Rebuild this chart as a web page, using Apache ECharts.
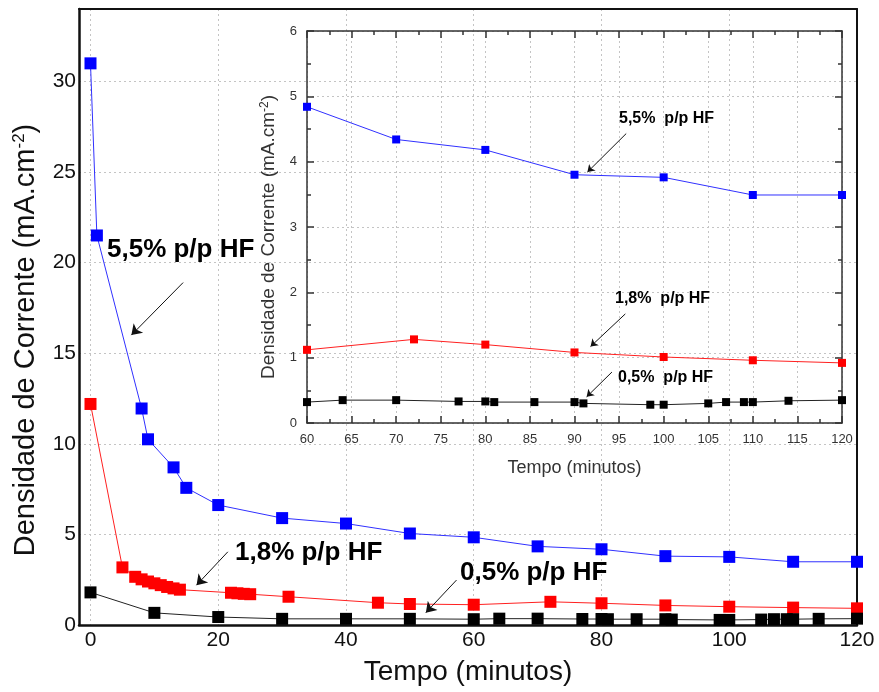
<!DOCTYPE html>
<html>
<head>
<meta charset="utf-8">
<script src="https://cdn.jsdelivr.net/npm/echarts@6/dist/echarts.min.js"></script>
<style>
  html, body { margin: 0; padding: 0; background: #fff; }
  #chart { width: 879px; height: 692px; }
</style>
</head>
<body>
<div id="chart"></div>
<script>
// densidade de corrente (mA.cm-2) x tempo (minutos), uma serie por concentracao de HF
const tempo55 = [0, 1, 8, 9, 13, 15, 20, 30, 40, 50, 60, 70, 80, 90, 100, 110, 120];
const dens55 = [31.0, 21.5, 11.95, 10.25, 8.7, 7.57, 6.62, 5.9, 5.6, 5.05, 4.84, 4.34, 4.18, 3.8, 3.76, 3.49, 3.49];

const tempo18 = [0, 5, 7, 8, 9, 10, 11, 12, 13, 14, 22, 23, 24, 25, 31, 45, 50, 60, 72, 80, 90, 100, 110, 120];
const dens18 = [12.2, 3.18, 2.66, 2.52, 2.4, 2.3, 2.2, 2.1, 2.02, 1.95, 1.78, 1.75, 1.72, 1.7, 1.56, 1.23, 1.16, 1.12, 1.28, 1.2, 1.08, 1.01, 0.96, 0.92];

const tempo05 = [0, 10, 20, 30, 40, 50, 60, 64, 70, 77, 80, 81, 85.5, 90, 91, 98.5, 100, 105, 107, 109, 110, 114, 120];
const dens05 = [1.8, 0.67, 0.44, 0.34, 0.34, 0.34, 0.32, 0.35, 0.35, 0.33, 0.33, 0.32, 0.32, 0.32, 0.30, 0.28, 0.28, 0.30, 0.32, 0.32, 0.32, 0.34, 0.35];

// setas das anotacoes, em coordenadas dos eixos [inicio, ponta]
const setasPrincipal = [
  [[14.5, 18.9], [6.4, 16.0]],
  [[21.5, 4.04], [16.6, 2.2]],
  [[57.3, 2.48], [52.5, 0.68]]
];
const setasDetalhe = [
  [[95.8, 4.43], [91.45, 3.84]],
  [[95.7, 1.67], [91.8, 1.17]],
  [[94.2, 0.78], [91.36, 0.40]]
];

const fonte = "'Liberation Sans', Arial, sans-serif";
const grade = { color: '#c4c4c4', type: [2, 3], width: 1 };

const pares = (xs, ys) => xs.map((x, i) => [x, ys[i]]);
const detalhe = (xs, ys) => pares(xs, ys).filter(p => p[0] >= 60);

const serie = (dados, cor, corLinha, tam, eixo) => ({
  type: 'line',
  data: dados,
  xAxisIndex: eixo,
  yAxisIndex: eixo,
  symbol: 'rect',
  symbolSize: tam,
  showAllSymbol: true,
  itemStyle: { color: cor },
  lineStyle: { color: corLinha, width: 1 },
  z: 3
});

const setas = (lista, eixo, tam) => ({
  type: 'lines',
  coordinateSystem: 'cartesian2d',
  xAxisIndex: eixo,
  yAxisIndex: eixo,
  symbol: ['none', 'arrow'],
  symbolSize: tam,
  lineStyle: { color: '#111', width: 1, opacity: 1 },
  data: lista.map(s => ({ coords: s })),
  z: 4
});

const texto = (t, x, y, tam) => ({
  type: 'text', x: x, y: y, z: 10,
  style: { text: t, font: 'bold ' + tam + 'px ' + fonte, fill: '#000', verticalAlign: 'middle' }
});

const option = {
  animation: false,
  grid: [
    { left: 79, top: 9, right: 22, bottom: 67 },
    { left: 307, top: 31, right: 37, bottom: 269 }
  ],
  xAxis: [
    {
      gridIndex: 0, type: 'value', position: 'bottom', min: -1.8, max: 120, splitNumber: 6,
      name: 'Tempo (minutos)', nameLocation: 'middle', nameGap: 33,
      nameTextStyle: { fontSize: 28, fontFamily: fonte, color: '#111' },
      axisLine: { onZero: false, lineStyle: { color: '#111', width: 2.5 } },
      axisTick: { show: false },
      axisLabel: { fontSize: 21, fontFamily: fonte, color: '#111', margin: 5, showMinLabel: false },
      splitLine: { show: true, lineStyle: grade }
    },
    {
      gridIndex: 0, type: 'value', position: 'top', min: -1.8, max: 120,
      axisLine: { onZero: false, lineStyle: { color: '#111', width: 2 } },
      axisTick: { show: false }, axisLabel: { show: false }, splitLine: { show: false }
    },
    {
      gridIndex: 1, type: 'value', position: 'bottom', min: 60, max: 120, interval: 5,
      name: 'Tempo (minutos)', nameLocation: 'middle', nameGap: 36,
      nameTextStyle: { fontSize: 18, fontFamily: fonte, color: '#333' },
      axisLine: { onZero: false, lineStyle: { color: '#333', width: 1.5 } },
      axisTick: { inside: true, length: 7, lineStyle: { color: '#333', width: 1.5 } },
      minorTick: { show: true, splitNumber: 2, length: 4, lineStyle: { color: '#333', width: 1.5 } },
      axisLabel: { fontSize: 13, fontFamily: fonte, color: '#333', margin: 10 },
      splitLine: { show: true, lineStyle: grade }
    },
    {
      gridIndex: 1, type: 'value', position: 'top', min: 60, max: 120, interval: 5,
      axisLine: { onZero: false, lineStyle: { color: '#333', width: 1.5 } },
      axisTick: { inside: true, length: 7, lineStyle: { color: '#333', width: 1.5 } },
      minorTick: { show: true, splitNumber: 2, length: 4, lineStyle: { color: '#333', width: 1.5 } },
      axisLabel: { show: false }, splitLine: { show: false }
    }
  ],
  yAxis: [
    {
      gridIndex: 0, type: 'value', position: 'left', min: 0, max: 34, interval: 5,
      name: 'Densidade de Corrente (mA.cm{sup|-2})', nameLocation: 'middle', nameGap: 39,
      nameTextStyle: {
        fontSize: 29, fontFamily: fonte, color: '#111', padding: [0, 46, 0, 0],
        rich: { sup: { fontSize: 17, fontFamily: fonte, color: '#111', verticalAlign: 'top' } }
      },
      axisLine: { show: true, onZero: false, lineStyle: { color: '#111', width: 2.5 } },
      axisTick: { show: false },
      axisLabel: { fontSize: 21, fontFamily: fonte, color: '#111', margin: 3, showMaxLabel: false },
      splitLine: { show: true, lineStyle: grade }
    },
    {
      gridIndex: 0, type: 'value', position: 'right', min: 0, max: 34,
      axisLine: { show: true, onZero: false, lineStyle: { color: '#111', width: 2 } },
      axisTick: { show: false }, axisLabel: { show: false }, splitLine: { show: false }
    },
    {
      gridIndex: 1, type: 'value', position: 'left', min: 0, max: 6, interval: 1,
      name: 'Densidade de Corrente (mA.cm{sup|-2})', nameLocation: 'middle', nameGap: 29,
      nameTextStyle: {
        fontSize: 19, fontFamily: fonte, color: '#333', padding: [0, 20, 0, 0],
        rich: { sup: { fontSize: 12, fontFamily: fonte, color: '#333', verticalAlign: 'top' } }
      },
      axisLine: { show: true, onZero: false, lineStyle: { color: '#333', width: 1.5 } },
      axisTick: { inside: true, length: 7, lineStyle: { color: '#333', width: 1.5 } },
      minorTick: { show: true, splitNumber: 2, length: 4, lineStyle: { color: '#333', width: 1.5 } },
      axisLabel: { fontSize: 13, fontFamily: fonte, color: '#333', margin: 10 },
      splitLine: { show: true, lineStyle: grade }
    },
    {
      gridIndex: 1, type: 'value', position: 'right', min: 0, max: 6, interval: 1,
      axisLine: { show: true, onZero: false, lineStyle: { color: '#333', width: 1.5 } },
      axisTick: { inside: true, length: 7, lineStyle: { color: '#333', width: 1.5 } },
      minorTick: { show: true, splitNumber: 2, length: 4, lineStyle: { color: '#333', width: 1.5 } },
      axisLabel: { show: false }, splitLine: { show: false }
    }
  ],
  series: [
    serie(pares(tempo55, dens55), '#0000ff', '#3030ff', 12, 0),
    serie(pares(tempo18, dens18), '#ff0000', '#ff2020', 12, 0),
    serie(pares(tempo05, dens05), '#000000', '#222222', 12, 0),
    serie(detalhe(tempo55, dens55), '#0000ff', '#3030ff', 8, 2),
    serie(detalhe(tempo18, dens18), '#ff0000', '#ff2020', 8, 2),
    serie(detalhe(tempo05, dens05), '#000000', '#222222', 8, 2),
    setas(setasPrincipal, 0, 10),
    setas(setasDetalhe, 2, 7)
  ],
  graphic: [
    texto('5,5% p/p HF', 107, 250, 26),
    texto('1,8% p/p HF', 235, 553, 26),
    texto('0,5% p/p HF', 460, 573, 26),
    texto('5,5%  p/p HF', 619, 119, 16),
    texto('1,8%  p/p HF', 615, 299, 16),
    texto('0,5%  p/p HF', 618, 378, 16)
  ]
};

const chart = echarts.init(document.getElementById('chart'));
chart.setOption(option);
</script>
</body>
</html>
